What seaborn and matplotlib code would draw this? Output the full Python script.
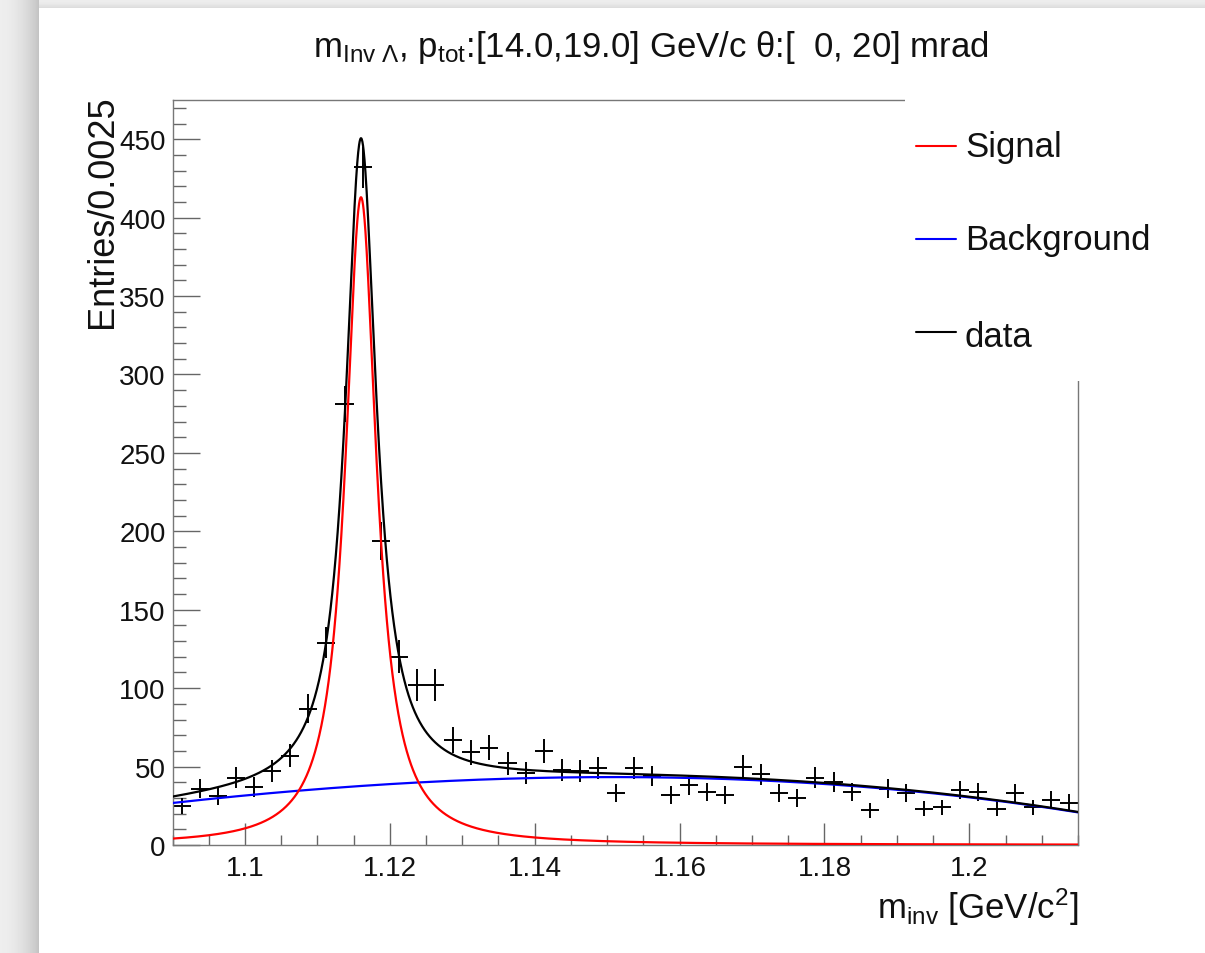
import numpy as np
import pandas as pd
import matplotlib
matplotlib.use("Agg")
import matplotlib.pyplot as plt
import seaborn as sns
from matplotlib.lines import Line2D
from matplotlib.patches import Rectangle
from matplotlib.ticker import MultipleLocator, FuncFormatter

# ---------------- data ----------------
bin_low = 1.09
bin_high = 1.215
bin_width = 0.0025
counts = [25, 36, 31, 43, 37, 47, 57, 87, 129, 281,
          432, 194, 120, 102, 102, 67, 59, 62, 52, 46,
          60, 48, 47, 49, 33, 49, 44, 32, 38, 34,
          32, 50, 45, 33, 30, 43, 40, 34, 22, 36,
          33, 23, 24, 35, 34, 23, 33, 24, 29, 27]
count_errors = [5.0, 6.0, 5.6, 6.6, 6.1, 6.9, 7.5, 9.3, 10.0, 11.5,
                13.0, 12.0, 10.5, 10.0, 10.0, 8.2, 7.7, 7.9, 7.2, 6.8,
                7.7, 6.9, 6.9, 7.0, 5.7, 7.0, 6.6, 5.7, 6.2, 5.8,
                5.7, 7.1, 6.7, 5.7, 5.5, 6.6, 6.3, 5.8, 4.7, 6.0,
                5.7, 4.8, 4.9, 5.9, 5.8, 4.8, 5.7, 4.9, 5.4, 5.2]

# fit parameters (Lorentzian signal + cubic background)
sig_amp = 413.0
sig_mean = 1.11602
sig_hwhm = 0.0026
bg_ref = 1.15
bg_coef = [43.3, 8.5, -4930.0, -8109.0]

title_text = r"m$_{\mathregular{Inv}\ \Lambda}$, p$_{\mathregular{tot}}$:[14.0,19.0] GeV/c θ:[  0, 20] mrad"
xlabel_text = r"m$_{\mathregular{inv}}$ [GeV/c$^{\mathregular{2}}$]"
ylabel_text = "Entries/0.0025"
legend_labels = ["Signal", "Background", "data"]
legend_colors = ["#ff0000", "#0000ff", "#000000"]

# ---------------- derived ----------------
edges = bin_low + bin_width * np.arange(len(counts) + 1)
centers = 0.5 * (edges[:-1] + edges[1:])
counts_arr = np.array(counts, dtype=float)
errs = np.array(count_errors)

xs = np.linspace(bin_low, bin_high, 3000)
sig = sig_amp / (1.0 + ((xs - sig_mean) / sig_hwhm) ** 2)
u = xs - bg_ref
bg = bg_coef[0] + bg_coef[1] * u + bg_coef[2] * u ** 2 + bg_coef[3] * u ** 3
tot = sig + bg
curves = pd.DataFrame({"x": xs, "Signal": sig, "Background": bg, "Total": tot})

# ---------------- style ----------------
sns.set_theme(style="ticks")
plt.rcParams["font.family"] = ["Liberation Sans", "DejaVu Sans"]
plt.rcParams["mathtext.fontset"] = "custom"
plt.rcParams["mathtext.rm"] = "Liberation Sans"
plt.rcParams["mathtext.it"] = "Liberation Sans:italic"
plt.rcParams["mathtext.bf"] = "Liberation Sans:bold"
plt.rcParams["mathtext.default"] = "regular"

W, H = 1205, 954
fig = plt.figure(figsize=(W / 100, H / 100), dpi=100)
fig.patch.set_facecolor("white")

# screenshot-like background with shadow strip
bgax = fig.add_axes([0, 0, 1, 1], zorder=-10)
img = np.ones((H, W))
card_x, card_y = 39, 9
xx = np.arange(card_x)
img[:, :card_x] = (0.93 - 0.17 * (xx / card_x) ** 2)[None, :]
yy = np.arange(card_y)
img[:card_y, card_x:] = (0.93 - 0.08 * (yy / card_y) ** 2)[:, None]
bgax.imshow(img, cmap="gray", vmin=0, vmax=1, aspect="auto", interpolation="nearest")
bgax.set_axis_off()

def fx(px):
    return px / W

def fy(py):
    return 1 - py / H

ax_l, ax_r, ax_t, ax_b = 172.5, 1078.0, 101.0, 846.0
ax = fig.add_axes([fx(ax_l), fy(ax_b), (ax_r - ax_l) / W, (ax_b - ax_t) / H])
ax.set_facecolor("white")

ax.errorbar(centers, counts_arr, xerr=bin_width / 2, yerr=errs, fmt="none",
            ecolor="black", elinewidth=1.4, capsize=0, zorder=2)
sns.lineplot(data=curves, x="x", y="Background", color="#0000ff", linewidth=1.6,
             ax=ax, zorder=3, legend=False)
sns.lineplot(data=curves, x="x", y="Signal", color="#ff0000", linewidth=1.6,
             ax=ax, zorder=4, legend=False)
sns.lineplot(data=curves, x="x", y="Total", color="#000000", linewidth=1.6,
             ax=ax, zorder=3.5, legend=False)

ax.set_xlim(bin_low, bin_high)
ax.set_ylim(0, 475)

ax.xaxis.set_major_locator(MultipleLocator(0.02))
ax.xaxis.set_minor_locator(MultipleLocator(0.005))
ax.yaxis.set_major_locator(MultipleLocator(50))
ax.yaxis.set_minor_locator(MultipleLocator(10))
ax.xaxis.set_major_formatter(FuncFormatter(lambda v, p: f"{v:g}"))
ax.yaxis.set_major_formatter(FuncFormatter(lambda v, p: f"{v:g}"))

ax.tick_params(which="both", direction="in", color="#666666", width=1.0,
               labelcolor="#111111", top=False, right=False)
ax.tick_params(axis="y", which="major", length=19.5, labelsize=20, pad=5)
ax.tick_params(axis="y", which="minor", length=9.5)
ax.tick_params(axis="x", which="major", length=16, labelsize=20, pad=7)
ax.tick_params(axis="x", which="minor", length=7.5)
for s in ax.spines.values():
    s.set_color("#777777")
    s.set_linewidth(1.0)

ax.set_xlabel(xlabel_text, fontsize=25, loc="right", color="#111111")
ax.xaxis.set_label_coords(1.0, -0.055)
ax.set_ylabel(ylabel_text, fontsize=26, loc="top", color="#111111")
ax.yaxis.set_label_coords(-0.058, 1.008)

fig.text(fx(651), fy(57), title_text, ha="center", va="baseline", fontsize=25,
         color="#111111")

# legend (ROOT-style box at top right, covering frame)
fig.add_artist(Rectangle((fx(905), fy(382)), 1 - fx(905), fy(92) - fy(382),
                         transform=fig.transFigure, facecolor="white",
                         edgecolor="none", zorder=5))
line_y = [147, 240, 333]
text_y = [157, 250, 347]
for lab, col, ly, ty in zip(legend_labels, legend_colors, line_y, text_y):
    fig.add_artist(Line2D([fx(916), fx(956)], [fy(ly), fy(ly)], color=col,
                          linewidth=1.5, transform=fig.transFigure, zorder=6))
    fig.text(fx(965), fy(ty), lab, ha="left", va="baseline", fontsize=25,
             color="#111111", zorder=6)

fig.savefig("out.png", dpi=100)
